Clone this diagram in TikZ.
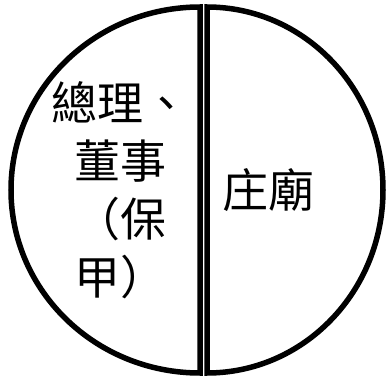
\documentclass[tikz,border=0pt]{standalone}
\usepackage{fontspec}
\newfontfamily\cjk{Noto Sans CJK TC}
\usepackage{tikz}

\begin{document}
\begin{tikzpicture}[x=1pt,y=1pt,half/.style = {draw, line width=5.5pt, line join=miter},lbl/.style = {align=center, inner sep=0pt, font=\cjk\fontsize{46}{58}\selectfont}]
        \useasboundingbox (0,0) rectangle (386,376);
        \draw[half] (200,369) arc[start angle=90, end angle=270, x radius=189, y radius=183] -- cycle;
        \draw[half] (207,3) arc[start angle=-90, end angle=90, x radius=176, y radius=183] -- cycle;
        \node[lbl] (1) at (121,186) {總理、\\董事\\（保\\甲）};
        \node[lbl] (2) at (268,186) {庄廟};
        \end{tikzpicture}
\end{document}
